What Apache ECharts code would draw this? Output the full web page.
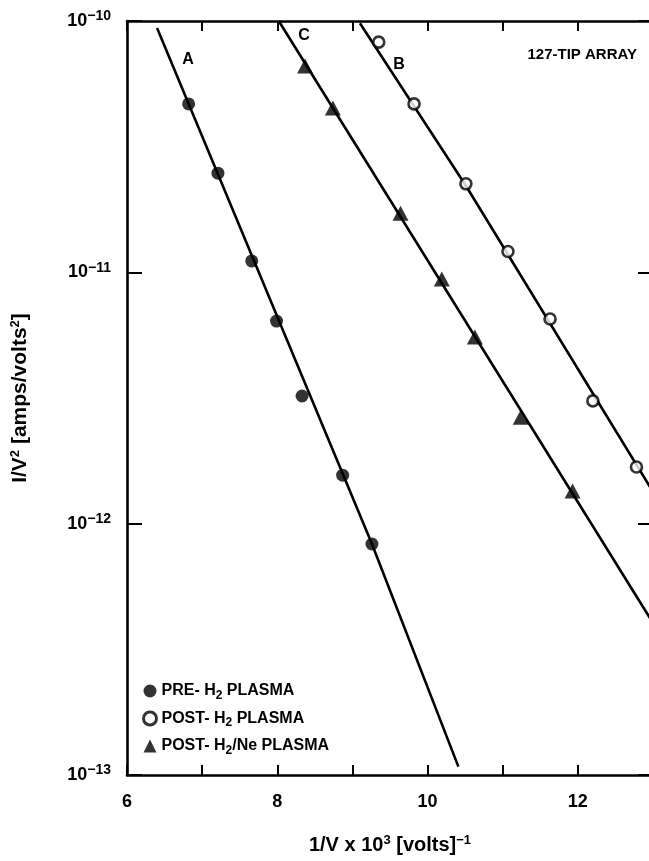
<!DOCTYPE html>
<html><head><meta charset="utf-8">
<script src="https://cdn.jsdelivr.net/npm/echarts@6/dist/echarts.min.js"></script>
<style>html,body{margin:0;padding:0;background:#fff}#c{width:649px;height:861px}</style>
</head><body><div id="c"></div>
<script>
// ---- data ----
const preX  = [6.82, 7.21, 7.66, 7.99, 8.33, 8.87, 9.26];
const preY  = [4.68e-11, 2.48e-11, 1.11e-11, 6.40e-12, 3.22e-12, 1.56e-12, 8.30e-13];
const postX = [9.35, 9.82, 10.51, 11.07, 11.63, 12.20, 12.78];
const postY = [8.24e-11, 4.68e-11, 2.25e-11, 1.21e-11, 6.52e-12, 3.08e-12, 1.68e-12];
const neX   = [8.37, 8.74, 9.64, 10.19, 10.63, 11.24, 11.93];
const neY   = [6.62e-11, 4.51e-11, 1.72e-11, 9.40e-12, 5.53e-12, 2.65e-12, 1.35e-12];
// fitted lines A, B, C
const fitAX = [6.40, 9.26, 10.41];
const fitAY = [9.38e-11, 8.30e-13, 1.08e-13];
const fitBX = [9.10, 10.51, 13.0];
const fitBY = [9.8e-11, 2.21e-11, 1.34e-12];
const fitCX = [8.02, 13.0];
const fitCY = [1.0e-10, 4.03e-13];
const xLabeled = [6, 8, 10, 12];
const seriesNames = ['PRE- H2 PLASMA', 'POST- H2 PLASMA', 'POST- H2/Ne PLASMA'];
const legendRich = ['PRE- H{sub|2} PLASMA', 'POST- H{sub|2} PLASMA', 'POST- H{sub|2}/Ne PLASMA'];

const pairs = (xs, ys) => xs.map((x, i) => [x, ys[i]]);
const FF = '"Liberation Sans", Arial, Helvetica, sans-serif';
const lineS = (name, xs, ys) => ({
  name, type: 'line', data: pairs(xs, ys), showSymbol: false, symbol: 'none',
  lineStyle: {color: '#000', width: 2.6}, z: 2, silent: true
});

const chart = echarts.init(document.getElementById('c'), null, {renderer: 'canvas'});
const axisCommon = {
  axisLine: {show: true, lineStyle: {color: '#000', width: 2.6}},
  axisTick: {show: true, inside: true, lineStyle: {color: '#000', width: 2}},
  splitLine: {show: false}
};
chart.setOption({
  animation: false,
  backgroundColor: '#fff',
  grid: {left: 127, top: 21, width: 526, height: 754, containLabel: false, outerBoundsMode: 'none'},
  xAxis: [
    Object.assign({}, axisCommon, {
      type: 'value', min: 6, max: 13, interval: 1, position: 'bottom',
      axisTick: {show: true, inside: true, length: 10, lineStyle: {color: '#000', width: 2}},
      axisLabel: {
        margin: 18, color: '#000', fontFamily: FF, fontWeight: 'bold', fontSize: 18,
        formatter: v => xLabeled.includes(v) ? String(v) : ''
      },
      name: '1/V x 10{sup|3} [volts]{sup|\u22121}',
      nameLocation: 'middle', nameGap: 59,
      nameTextStyle: {
        color: '#000', fontFamily: FF, fontWeight: 'bold', fontSize: 20,
        rich: {sup: {fontSize: 13, fontWeight: 'bold', fontFamily: FF, padding: [0, 0, 10, 0]}}
      }
    }),
    Object.assign({}, axisCommon, {
      type: 'value', min: 6, max: 13, interval: 1, position: 'top',
      axisTick: {show: true, inside: true, length: 10, lineStyle: {color: '#000', width: 2}},
      axisLabel: {show: false}
    })
  ],
  yAxis: [
    Object.assign({}, axisCommon, {
      type: 'log', logBase: 10, min: 1e-13, max: 1e-10, position: 'left',
      axisTick: {show: true, inside: true, length: 15, lineStyle: {color: '#000', width: 2}},
      axisLabel: {
        margin: 16, color: '#000',
        formatter: v => '{b|10}{s|\u2212' + (-Math.round(Math.log10(v))) + '}',
        rich: {
          b: {fontFamily: FF, fontWeight: 'bold', fontSize: 18},
          s: {fontFamily: FF, fontWeight: 'bold', fontSize: 14, padding: [0, 0, 9, 0]}
        }
      },
      name: 'I/V{sup|2} [amps/volts{sup|2}]',
      nameLocation: 'middle', nameGap: 95, nameRotate: 90,
      nameTextStyle: {
        color: '#000', fontFamily: FF, fontWeight: 'bold', fontSize: 21,
        rich: {sup: {fontSize: 13, fontWeight: 'bold', fontFamily: FF, padding: [0, 0, 10, 0]}}
      }
    }),
    Object.assign({}, axisCommon, {
      type: 'log', logBase: 10, min: 1e-13, max: 1e-10, position: 'right',
      axisTick: {show: true, inside: true, length: 15, lineStyle: {color: '#000', width: 2}},
      axisLabel: {show: false}
    })
  ],
  legend: {
    orient: 'vertical', left: 137, top: 677, itemGap: 8, itemWidth: 13, itemHeight: 13,
    selectedMode: false,
    data: [
      {name: seriesNames[0], icon: 'circle', itemStyle: {color: '#000', borderWidth: 0}},
      {name: seriesNames[1], icon: 'circle', itemStyle: {color: '#fff', borderColor: '#000', borderWidth: 3}},
      {name: seriesNames[2], icon: 'triangle', itemStyle: {color: '#000', borderWidth: 0}}
    ],
    formatter: name => legendRich[seriesNames.indexOf(name)],
    textStyle: {
      color: '#000', fontFamily: FF, fontWeight: 'bold', fontSize: 16, lineHeight: 18,
      rich: {sub: {fontFamily: FF, fontWeight: 'bold', fontSize: 12, padding: [9, 0, 0, 0]}}
    }
  },
  graphic: [
    {type: 'text', x: 188, y: 60, style: {text: 'A', fill: '#000', font: 'bold 16px ' + FF, align: 'center', verticalAlign: 'middle'}},
    {type: 'text', x: 304, y: 36, style: {text: 'C', fill: '#000', font: 'bold 16px ' + FF, align: 'center', verticalAlign: 'middle'}},
    {type: 'text', x: 399, y: 65, style: {text: 'B', fill: '#000', font: 'bold 16px ' + FF, align: 'center', verticalAlign: 'middle'}},
    {type: 'text', x: 637, y: 55, style: {text: '127-TIP ARRAY', fill: '#000', font: 'bold 15px ' + FF, align: 'right', verticalAlign: 'middle'}}
  ],
  series: [
    lineS('fitA', fitAX, fitAY),
    lineS('fitB', fitBX, fitBY),
    lineS('fitC', fitCX, fitCY),
    {name: seriesNames[0], type: 'scatter', data: pairs(preX, preY), symbol: 'circle', symbolSize: 13,
     itemStyle: {color: '#000'}, z: 5},
    {name: seriesNames[1], type: 'scatter', data: pairs(postX, postY), symbol: 'circle', symbolSize: 11,
     itemStyle: {color: '#fff', borderColor: '#000', borderWidth: 2.6}, z: 5},
    {name: seriesNames[2], type: 'scatter', data: pairs(neX, neY), symbol: 'triangle', symbolSize: [16, 15],
     itemStyle: {color: '#000'}, z: 5}
  ]
});
</script></body></html>
